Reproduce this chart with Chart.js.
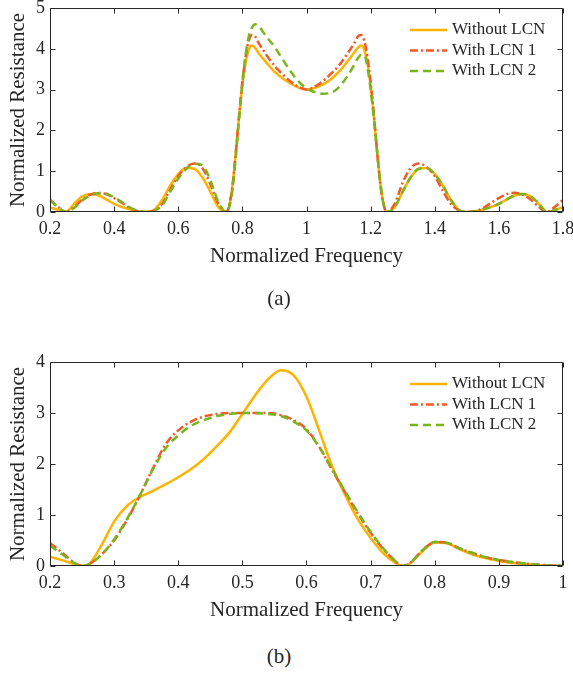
<!DOCTYPE html>
<html>
<head>
<meta charset="utf-8">
<script src="https://cdn.jsdelivr.net/npm/chart.js@4.4.1/dist/chart.umd.min.js"></script>
<style>
    body { margin: 0; background: #ffffff; overflow: hidden; }
    .quadro { position: absolute; left: 0; width: 573px; height: 290px; }
    .rotulo { position: absolute; width: 60px; text-align: center; line-height: 24px;
              font-family: "Liberation Serif", "Times New Roman", serif; font-size: 21px; color: #262626; }
</style>
</head>
<body>
<div class="quadro" style="top:0px"><canvas id="grafico_a" width="573" height="290"></canvas></div>
<div class="rotulo" style="left:249px; top:286px">(a)</div>
<div class="quadro" style="top:354px"><canvas id="grafico_b" width="573" height="290"></canvas></div>
<div class="rotulo" style="left:249px; top:644px">(b)</div>

<script>
const nomes = ['Without LCN', 'With LCN 1', 'With LCN 2'];
const cores = ['#FFB300', '#F05A28', '#7AB51D'];
const tracos = [[], [8, 3, 2, 3], [8, 5]];
const corTexto = '#262626';
const fonte = '"Liberation Serif", "Times New Roman", serif';

// (a) frequencia normalizada 0.2 - 1.8
const freqA = [0.2, 0.225, 0.25, 0.275, 0.3, 0.325, 0.35, 0.375, 0.4, 0.425, 0.45, 0.475, 0.5,
    0.525, 0.55, 0.575, 0.6, 0.625, 0.65, 0.675, 0.7, 0.725, 0.75,
    0.76, 0.77, 0.78, 0.79, 0.8, 0.81, 0.82, 0.83, 0.84, 0.85,
    0.875, 0.9, 0.925, 0.95, 0.975, 1.0, 1.025, 1.05, 1.075, 1.1, 1.125, 1.15,
    1.16, 1.17, 1.18, 1.19, 1.2, 1.21, 1.22, 1.23, 1.24, 1.25,
    1.275, 1.3, 1.325, 1.35, 1.375, 1.4, 1.425, 1.45, 1.475, 1.5, 1.525, 1.55,
    1.575, 1.6, 1.625, 1.65, 1.675, 1.7, 1.725, 1.75, 1.775, 1.8];
const semLcnA = [0.12, 0.05, 0, 0.2, 0.38, 0.44, 0.41, 0.31, 0.2, 0.12, 0.06, 0.01, 0,
    0.05, 0.3, 0.65, 0.93, 1.08, 1.06, 0.85, 0.5, 0.12, 0,
    0.2, 0.7, 1.5, 2.35, 3.1, 3.65, 3.98, 4.08, 4.02, 3.9,
    3.66, 3.44, 3.28, 3.15, 3.05, 3.0, 3.04, 3.12, 3.25, 3.43, 3.66, 3.92,
    4.02, 4.08, 3.98, 3.65, 3.1, 2.35, 1.5, 0.7, 0.2, 0,
    0.12, 0.5, 0.85, 1.06, 1.08, 0.93, 0.65, 0.3, 0.05, 0, 0.01, 0.06,
    0.12, 0.2, 0.31, 0.41, 0.44, 0.38, 0.2, 0, 0.05, 0.12];
const lcn1A = [0.3, 0.13, 0, 0.12, 0.3, 0.42, 0.47, 0.44, 0.34, 0.22, 0.09, 0.02, 0,
    0.04, 0.2, 0.55, 0.88, 1.1, 1.19, 1.08, 0.68, 0.2, 0,
    0.2, 0.7, 1.5, 2.4, 3.2, 3.8, 4.2, 4.34, 4.3, 4.15,
    3.85, 3.58, 3.38, 3.2, 3.07, 3.0, 3.07, 3.2, 3.38, 3.58, 3.85, 4.15,
    4.3, 4.34, 4.2, 3.8, 3.2, 2.4, 1.5, 0.7, 0.2, 0,
    0.2, 0.72, 1.08, 1.19, 1.1, 0.88, 0.52, 0.2, 0.04, 0, 0.02, 0.09,
    0.22, 0.34, 0.44, 0.47, 0.42, 0.3, 0.12, 0, 0.13, 0.3];
const lcn2A = [0.28, 0.12, 0, 0.1, 0.28, 0.4, 0.46, 0.45, 0.36, 0.24, 0.11, 0.03, 0,
    0.03, 0.17, 0.5, 0.82, 1.06, 1.18, 1.15, 0.78, 0.25, 0,
    0.15, 0.6, 1.4, 2.3, 3.15, 3.85, 4.3, 4.52, 4.6, 4.56,
    4.3, 4.05, 3.75, 3.45, 3.2, 3.03, 2.94, 2.9, 2.92, 3.05, 3.3, 3.62,
    3.77, 3.85, 3.85, 3.55, 3.0, 2.3, 1.5, 0.75, 0.2, 0,
    0.12, 0.5, 0.85, 1.06, 1.08, 0.93, 0.65, 0.3, 0.05, 0, 0.01, 0.06,
    0.12, 0.2, 0.31, 0.41, 0.44, 0.38, 0.2, 0, 0.05, 0.12];
const ticksXA = [0.2, 0.4, 0.6, 0.8, 1, 1.2, 1.4, 1.6, 1.8];
const ticksYA = [0, 1, 2, 3, 4, 5];

// (b) frequencia normalizada 0.2 - 1
const freqB = [0.2, 0.22, 0.24, 0.25, 0.26, 0.28, 0.3, 0.32, 0.34, 0.36, 0.38, 0.4, 0.42, 0.44,
    0.46, 0.48, 0.5, 0.52, 0.54, 0.56, 0.58, 0.6, 0.62, 0.64, 0.66, 0.68, 0.7, 0.72, 0.74,
    0.75, 0.76, 0.78, 0.8, 0.82, 0.84, 0.86, 0.88, 0.9, 0.92, 0.94, 0.96, 0.98, 1.0];
const semLcnB = [0.18, 0.11, 0.03, 0, 0.03, 0.4, 0.87, 1.18, 1.35, 1.47, 1.6, 1.74, 1.9, 2.1,
    2.35, 2.62, 2.98, 3.35, 3.66, 3.84, 3.74, 3.32, 2.65, 1.95, 1.4, 0.92, 0.55, 0.25, 0.05,
    0, 0.04, 0.28, 0.46, 0.44, 0.32, 0.22, 0.15, 0.1, 0.06, 0.04, 0.02, 0.01, 0];
const lcn1B = [0.45, 0.25, 0.05, 0, 0.03, 0.22, 0.5, 0.9, 1.38, 1.9, 2.38, 2.66, 2.83, 2.93,
    2.98, 3.0, 3.0, 3.0, 3.0, 2.96, 2.86, 2.68, 2.33, 1.88, 1.45, 1.03, 0.65, 0.33, 0.08,
    0, 0.04, 0.3, 0.47, 0.45, 0.34, 0.25, 0.17, 0.12, 0.08, 0.05, 0.03, 0.01, 0];
const lcn2B = [0.4, 0.22, 0.04, 0, 0.03, 0.22, 0.52, 0.92, 1.38, 1.88, 2.3, 2.56, 2.75, 2.86,
    2.94, 2.98, 3.0, 3.0, 2.98, 2.94, 2.83, 2.66, 2.33, 1.9, 1.47, 1.05, 0.67, 0.34, 0.08,
    0, 0.04, 0.3, 0.47, 0.45, 0.34, 0.25, 0.17, 0.12, 0.08, 0.05, 0.03, 0.01, 0];
const ticksXB = [0.2, 0.3, 0.4, 0.5, 0.6, 0.7, 0.8, 0.9, 1];
const ticksYB = [0, 1, 2, 3, 4];

// caixa com ticks para dentro (estilo matlab) + legenda no canto
const moldura = {
    id: 'moldura',
    afterDatasetsDraw(chart) {
        const ctx = chart.ctx;
        const a = chart.chartArea;
        const sx = chart.scales.x;
        const sy = chart.scales.y;
        const esq = Math.round(a.left) + 0.5, dir = Math.round(a.right) - 0.5;
        const cima = Math.round(a.top) + 0.5, baixo = Math.round(a.bottom) - 0.5;

        ctx.save();
        ctx.strokeStyle = corTexto;
        ctx.lineWidth = 1;
        ctx.beginPath();
        ctx.rect(esq, cima, dir - esq, baixo - cima);
        sx.ticks.forEach(function (t) {
            let p = Math.round(sx.getPixelForValue(t.value)) + 0.5;
            ctx.moveTo(p, baixo); ctx.lineTo(p, baixo - 5);
            ctx.moveTo(p, cima); ctx.lineTo(p, cima + 5);
        });
        sy.ticks.forEach(function (t) {
            let p = Math.round(sy.getPixelForValue(t.value)) + 0.5;
            ctx.moveTo(esq, p); ctx.lineTo(esq + 5, p);
            ctx.moveTo(dir, p); ctx.lineTo(dir - 5, p);
        });
        ctx.stroke();

        ctx.font = '17px ' + fonte;
        ctx.textBaseline = 'middle';
        chart.data.datasets.forEach(function (ds, i) {
            let y = a.top + 22 + i * 20.5;
            ctx.strokeStyle = ds.borderColor;
            ctx.lineWidth = ds.borderWidth;
            ctx.setLineDash(ds.borderDash);
            ctx.beginPath();
            ctx.moveTo(a.right - 153, y);
            ctx.lineTo(a.right - 116, y);
            ctx.stroke();
            ctx.setLineDash([]);
            ctx.fillStyle = corTexto;
            ctx.fillText(ds.label, a.right - 111, y);
        });
        ctx.restore();
    }
};

function montarGrafico(idCanvas, freq, series, ticksX, ticksY) {
    let datasets = [];
    for (let i = 0; i < series.length; i++) {
        let pontos = [];
        for (let j = 0; j < freq.length; j++) {
            pontos.push({ x: freq[j], y: series[i][j] });
        }
        datasets.push({
            label: nomes[i],
            data: pontos,
            borderColor: cores[i],
            borderWidth: 2.5,
            borderDash: tracos[i],
            pointRadius: 0,
            fill: false,
            cubicInterpolationMode: 'monotone',
            order: series.length - i
        });
    }

    const config = {
        type: 'line',
        data: { datasets: datasets },
        options: {
            responsive: false,
            animation: false,
            layout: { padding: { top: 8, right: 10, left: 0, bottom: 0 } },
            plugins: {
                legend: { display: false },
                tooltip: { enabled: false }
            },
            scales: {
                x: {
                    type: 'linear',
                    min: ticksX[0],
                    max: ticksX[ticksX.length - 1],
                    afterBuildTicks: function (s) { s.ticks = ticksX.map(v => ({ value: v })); },
                    afterFit: function (s) { s.height = 78; s.paddingLeft = 0; s.paddingRight = 0; },
                    grid: { display: false, drawTicks: false },
                    border: { display: false },
                    ticks: {
                        color: corTexto,
                        font: { family: fonte, size: 18 },
                        padding: 6,
                        maxRotation: 0,
                        autoSkip: false,
                        callback: v => String(v)
                    },
                    title: {
                        display: true,
                        text: 'Normalized Frequency',
                        color: corTexto,
                        font: { family: fonte, size: 21 },
                        padding: { top: 0, bottom: 21 }
                    }
                },
                y: {
                    min: ticksY[0],
                    max: ticksY[ticksY.length - 1],
                    afterBuildTicks: function (s) { s.ticks = ticksY.map(v => ({ value: v })); },
                    afterFit: function (s) { s.width = 50; s.paddingTop = 0; s.paddingBottom = 0; },
                    grid: { display: false, drawTicks: false },
                    border: { display: false },
                    ticks: {
                        color: corTexto,
                        font: { family: fonte, size: 18 },
                        padding: 5,
                        callback: v => String(v)
                    },
                    title: {
                        display: true,
                        text: 'Normalized Resistance',
                        color: corTexto,
                        font: { family: fonte, size: 21 },
                        padding: { top: 6, bottom: 0 }
                    }
                }
            }
        },
        plugins: [moldura]
    };

    return new Chart(document.getElementById(idCanvas), config);
}

montarGrafico('grafico_a', freqA, [semLcnA, lcn1A, lcn2A], ticksXA, ticksYA);
montarGrafico('grafico_b', freqB, [semLcnB, lcn1B, lcn2B], ticksXB, ticksYB);
</script>
</body>
</html>
